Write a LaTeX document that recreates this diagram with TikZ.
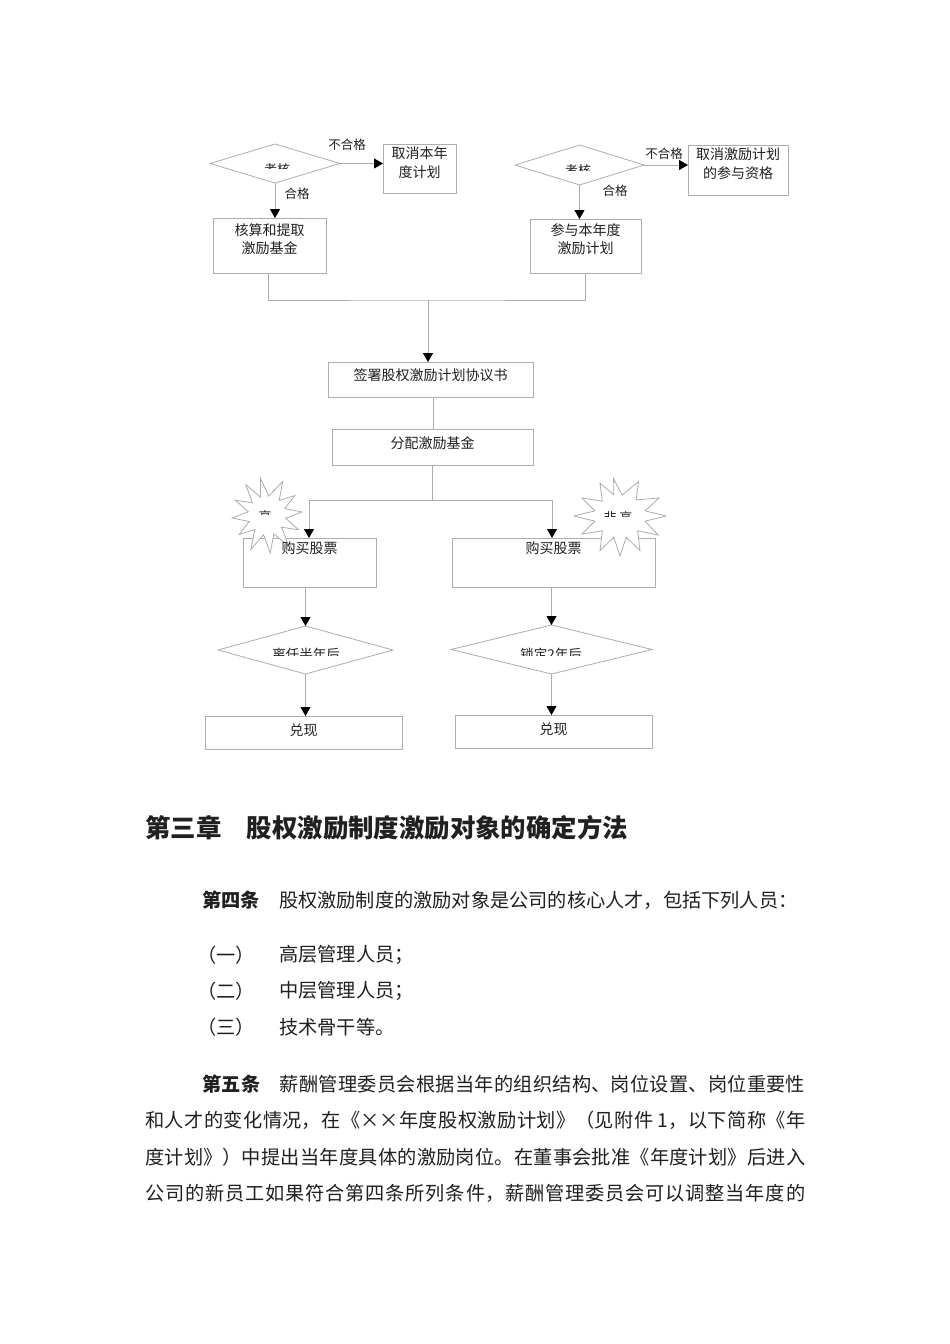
\documentclass[tikz,border=0pt]{standalone}
\usepackage{fontspec}
\setmainfont{Noto Sans CJK SC}
\usetikzlibrary{arrows.meta,shapes.geometric,calc}
\XeTeXlinebreaklocale "zh"
\XeTeXlinebreakskip=0pt plus 4pt
\pgfdeclarelayer{bg}
\pgfsetlayers{bg,main}
\definecolor{lnc}{HTML}{ADADAD}
\definecolor{tx}{HTML}{202020}
\tikzset{
 bx/.style={draw=lnc, line width=0.9pt, inner sep=0pt, outer sep=0pt, rectangle},
 dia/.style={draw=lnc, line width=0.8pt, diamond, inner sep=0pt, outer sep=0pt},
 lnk/.style={draw=lnc, line width=0.9pt},
 arr/.style={lnk, -{Triangle[color=black,width=10pt,length=9pt]}},
 t/.style={text=tx, font=\fontsize{14}{18.5}\selectfont, inner sep=0pt, align=center},
 lbl/.style={text=tx, font=\fontsize{12.5}{14}\selectfont, inner sep=0pt},
 starsty/.style={draw=lnc, fill=white, line width=0.8pt},
 body/.style={text=tx, font=\fontsize{19.2}{24}\selectfont, inner sep=0pt, anchor=west},
}
\begin{document}
\begin{tikzpicture}[x=1pt,y=-1pt]
\begin{pgfonlayer}{bg}
\fill[white] (0,0) rectangle (950,1344);
\node[bx, minimum width=113pt, minimum height=55pt] (b1) at (269.5,245.5) {};
\node[bx, minimum width=73pt, minimum height=49pt] (b2) at (419.5,168.5) {};
\node[bx, minimum width=111pt, minimum height=54pt] (b3) at (585.5,246) {};
\node[bx, minimum width=100pt, minimum height=50pt] (b4) at (738,170) {};
\node[bx, minimum width=205pt, minimum height=35pt] (b5) at (430.5,379.5) {};
\node[bx, minimum width=201pt, minimum height=36pt] (b6) at (432.5,447) {};
\node[bx, minimum width=133pt, minimum height=49pt] (b7) at (309.5,562.5) {};
\node[bx, minimum width=203pt, minimum height=49pt] (b8) at (553.5,562.5) {};
\node[bx, minimum width=197pt, minimum height=33pt] (b9) at (303.5,732.5) {};
\node[bx, minimum width=197pt, minimum height=33pt] (b10) at (553.5,731.5) {};
\end{pgfonlayer}
\path[use as bounding box] (0,0) rectangle (950,1344);

% diamonds
\node[dia, minimum width=130pt, minimum height=39pt] (d1) at (275,163.5) {};
\node[dia, minimum width=129pt, minimum height=40pt] (d2) at (579.5,165) {};
\node[dia, minimum width=175pt, minimum height=48pt] (d3) at (305.5,650) {};
\node[dia, minimum width=201pt, minimum height=49pt] (d4) at (551.5,649.5) {};

% clipped diamond texts
\begin{scope}
\clip (240,150) rectangle (310,168.5);
\node[t, font=\fontsize{13}{15}\selectfont] (d1t) at (277,169.5) {考核};
\end{scope}
\begin{scope}
\clip (540,150) rectangle (620,170);
\node[t, font=\fontsize{13}{15}\selectfont] (d2t) at (578,171) {考核};
\end{scope}
\begin{scope}
\clip (250,635) rectangle (360,655.5);
\node[t, font=\fontsize{13.5}{15}\selectfont] (d3t) at (306,654.5) {离任半年后};
\end{scope}
\begin{scope}
\clip (500,635) rectangle (605,655.5);
\node[t, font=\fontsize{13.5}{15}\selectfont] (d4t) at (551,654.5) {锁定2年后};
\end{scope}

% starbursts
\begin{scope}[shift={(267,515)}]
\draw[starsty] (-100:37) -- (-85:19) -- (-65:37) -- (-50:19) -- (-35:34) -- (-20:19)
 -- (-5:35) -- (10:19) -- (25:35) -- (40:19) -- (55:38) -- (70:20) -- (85:38)
 -- (100:20) -- (115:38) -- (130:19) -- (145:34) -- (160:19) -- (175:35)
 -- (190:19) -- (205:35) -- (220:19) -- (235:37) -- (250:19) -- cycle;
\end{scope}
\begin{scope}[shift={(620,516)}]
\draw[starsty] (-100:37 and 38) -- (-85:25 and 21) -- (-65:44 and 38) -- (-50:25 and 21)
 -- (-30:45 and 36) -- (-15:26 and 20) -- (0:46 and 38) -- (15:26 and 20) -- (30:44 and 38)
 -- (45:25 and 21) -- (60:40 and 40) -- (75:24 and 22) -- (90:40 and 40) -- (105:24 and 22)
 -- (120:40 and 40) -- (135:25 and 21) -- (150:44 and 36) -- (165:26 and 20)
 -- (180:46 and 38) -- (195:26 and 20) -- (210:44 and 36) -- (225:25 and 21)
 -- (240:40 and 38) -- (255:24 and 22) -- cycle;
\end{scope}
\begin{scope}
\clip (245,500) rectangle (290,514.5);
\node[t, font=\fontsize{13}{15}\selectfont] (s1t) at (265,516.5) {高};
\end{scope}
\begin{scope}
\clip (595,500) rectangle (645,516);
\node[t, font=\fontsize{13}{15}\selectfont] (s2t) at (618,518) {非\ 高};
\end{scope}

% box texts
\node[t] (t1) at (269.5,239) {核算和提取\\激励基金};
\node[t] (t2) at (419.5,162.5) {取消本年\\度计划};
\node[t] (t3) at (585.5,239) {参与本年度\\激励计划};
\node[t] (t4) at (738,163.5) {取消激励计划\\的参与资格};
\node[t] (t5) at (430.5,375) {签署股权激励计划协议书};
\node[t] (t6) at (432.5,443) {分配激励基金};
\node[t] (t7) at (309.5,548) {购买股票};
\node[t] (t8) at (553.5,548) {购买股票};
\node[t] (t9) at (303.5,730) {兑现};
\node[t] (t10) at (553.5,729) {兑现};

% labels
\node[lbl] (l1) at (347,145) {不合格};
\node[lbl] (l2) at (297,194) {合格};
\node[lbl] (l3) at (664,154) {不合格};
\node[lbl] (l4) at (615,191) {合格};

% connectors
\draw[arr] (d1.east) -- (d1.east -| b2.west);
\draw[arr] (d1.south) -- (d1.south |- b1.north);
\draw[arr] (d2.east) -- (d2.east -| b4.west);
\draw[arr] (d2.south) -- (d2.south |- b3.north);
\coordinate (j1) at (428,300);
\draw[lnk] (b1.south -| 268,0) |- (j1) -| (b3.south);
\draw[arr] (j1) -- (j1 |- b5.north);
\draw[lnk] (b6.north -| 433,0) -- (b5.south -| 433,0);
\coordinate (j2) at (432,500);
\coordinate (j2l) at (309,500);
\coordinate (j2r) at (552,500);
\draw[lnk] (b6.south -| j2) -- (j2);
\draw[lnk] (j2l) -- (j2r);
\draw[arr] (j2l) -- (j2l |- b7.north);
\draw[arr] (j2r) -- (j2r |- b8.north);
\draw[arr] (d3.north |- b7.south) -- (d3.north);
\draw[arr] (d3.south) -- (d3.south |- b9.north);
\draw[arr] (d4.north |- b8.south) -- (d4.north);
\draw[arr] (d4.south) -- (d4.south |- b10.north);

% body text
\node[anchor=west, text=tx, font=\fontsize{25.4}{30}\selectfont\bfseries, inner sep=0pt] (h3) at (145,828) {第三章　股权激励制度激励对象的确定方法};
\node[body] (a4) at (202,900) {{\bfseries 第四条}　股权激励制度的激励对象是公司的核心人才，包括下列人员：};
\node[body] (i1) at (197,955) {（一）};
\node[body] (i1t) at (279,955) {高层管理人员；};
\node[body] (i2) at (197,991) {（二）};
\node[body] (i2t) at (279,991) {中层管理人员；};
\node[body] (i3) at (197,1027) {（三）};
\node[body] (i3t) at (279,1027) {技术骨干等。};
\node[body] (p1) at (202,1084) {\parbox{603pt}{\parfillskip=0pt {\bfseries 第五条}　薪酬管理委员会根据当年的组织结构、岗位设置、岗位重要性}};
\node[body] (p2) at (145,1120) {\parbox{660pt}{\parfillskip=0pt 和人才的变化情况，在《××年度股权激励计划》（见附件 1，以下简称《年}};
\node[body] (p3) at (145,1157) {\parbox{660pt}{\parfillskip=0pt 度计划》）中提出当年度具体的激励岗位。在董事会批准《年度计划》后进入}};
\node[body] (p4) at (145,1193) {\parbox{660pt}{\parfillskip=0pt 公司的新员工如果符合第四条所列条件，薪酬管理委员会可以调整当年度的}};
\end{tikzpicture}
\end{document}
